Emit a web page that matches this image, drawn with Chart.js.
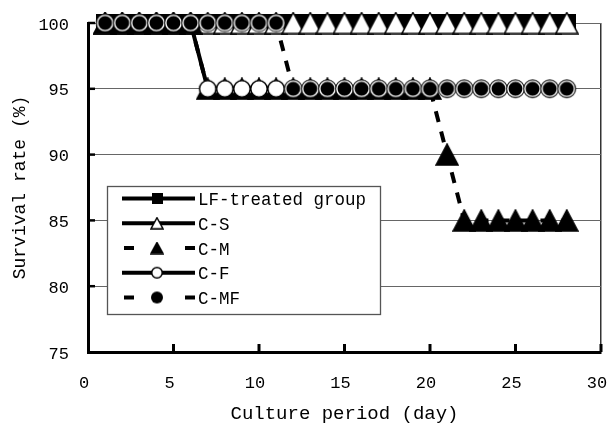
<!DOCTYPE html>
<html>
<head>
<meta charset="utf-8">
<script src="https://cdn.jsdelivr.net/npm/chart.js@4.4.1/dist/chart.umd.min.js"></script>
<style>
  html, body { margin: 0; padding: 0; background: #ffffff; }
  #wrap { width: 614px; height: 425px; }
</style>
</head>
<body>
<div id="wrap"><canvas id="c" width="614" height="425"></canvas></div>
<script>
// Culture day of each observation
const days = [1, 2, 3, 4, 5, 6, 7, 8, 9, 10, 11, 12, 13, 14, 15, 16, 17, 18, 19, 20, 21, 22, 23, 24, 25, 26, 27, 28];

// Survival rate (%) per group
const lfTreated = [100, 100, 100, 100, 100, 100, 100, 100, 100, 100, 100, 100, 100, 100, 100, 100, 100, 100, 100, 100, 100, 100, 100, 100, 100, 100, 100, 100];
const cS  = [100, 100, 100, 100, 100, 100, 100, 100, 100, 100, 100, 100, 100, 100, 100, 100, 100, 100, 100, 100, 100, 100, 100, 100, 100, 100, 100, 100];
const cM  = [100, 100, 100, 100, 100, 100, 95, 95, 95, 95, 95, 95, 95, 95, 95, 95, 95, 95, 95, 95, 90, 85, 85, 85, 85, 85, 85, 85];
const cF  = [100, 100, 100, 100, 100, 100, 95, 95, 95, 95, 95, 95, 95, 95, 95, 95, 95, 95, 95, 95, 95, 95, 95, 95, 95, 95, 95, 95];
const cMF = [100, 100, 100, 100, 100, 100, 100, 100, 100, 100, 100, 95, 95, 95, 95, 95, 95, 95, 95, 95, 95, 95, 95, 95, 95, 95, 95, 95];

const seriesNames = ['LF-treated group', 'C-S', 'C-M', 'C-F', 'C-MF'];
const xTicks = [0, 5, 10, 15, 20, 25, 30];
const yTicks = [75, 80, 85, 90, 95, 100];

const MONO = '"Liberation Mono", "DejaVu Sans Mono", monospace';

// ---- marker images -------------------------------------------------------
function makeCanvas(w, h, draw) {
  const cv = document.createElement('canvas');
  cv.width = w; cv.height = h;
  draw(cv.getContext('2d'), w, h);
  return cv;
}
function squareMarker(s) {
  return makeCanvas(s, s, (g) => { g.fillStyle = '#000'; g.fillRect(0, 0, s, s); });
}
function triangleMarker(w, h, fill) {
  const W = w + 2, H = h + 2;
  return makeCanvas(W, H, (g) => {
    g.beginPath();
    g.moveTo(W / 2, 1);
    g.lineTo(W - 1, H - 1);
    g.lineTo(1, H - 1);
    g.closePath();
    g.fillStyle = fill; g.fill();
    g.lineWidth = 1.5; g.strokeStyle = '#000'; g.lineJoin = 'miter'; g.stroke();
  });
}
function whiteCircleMarker(d) {
  const S = Math.ceil(d) + 2;
  return makeCanvas(S, S, (g) => {
    g.beginPath(); g.arc(S / 2, S / 2, d / 2 - 0.75, 0, Math.PI * 2);
    g.fillStyle = '#fff'; g.fill();
    g.lineWidth = 1.5; g.strokeStyle = '#000'; g.stroke();
  });
}
// black disc with a thin white ring just inside its edge
function ringCircleMarker(d) {
  const S = Math.ceil(d) + 2;
  return makeCanvas(S, S, (g) => {
    g.beginPath(); g.arc(S / 2, S / 2, d / 2, 0, Math.PI * 2);
    g.fillStyle = '#000'; g.fill();
    g.beginPath(); g.arc(S / 2, S / 2, d / 2 - 1.6, 0, Math.PI * 2);
    g.lineWidth = 1.4; g.strokeStyle = '#fff'; g.stroke();
  });
}
function blackCircleMarker(d) {
  const S = Math.ceil(d) + 2;
  return makeCanvas(S, S, (g) => {
    g.beginPath(); g.arc(S / 2, S / 2, d / 2, 0, Math.PI * 2);
    g.fillStyle = '#000'; g.fill();
  });
}

const plotMarkers = [
  squareMarker(18),
  triangleMarker(22, 21, '#fff'),
  triangleMarker(22, 21, '#000'),
  whiteCircleMarker(18),
  ringCircleMarker(18.5)
];
const legendMarkers = [
  squareMarker(11),
  triangleMarker(12, 11, '#fff'),
  triangleMarker(12, 11, '#000'),
  whiteCircleMarker(12),
  blackCircleMarker(12)
];
const dashed = [false, false, true, false, true];

const toPoints = (vals) => days.map((d, i) => ({ x: d, y: vals[i] }));
const seriesValues = [lfTreated, cS, cM, cF, cMF];

const datasets = seriesValues.map((vals, i) => ({
  label: seriesNames[i],
  data: toPoints(vals),
  borderColor: '#000',
  backgroundColor: '#000',
  borderWidth: 4,
  borderDash: dashed[i] ? [11, 10] : [],
  borderCapStyle: 'butt',
  tension: 0,
  pointStyle: plotMarkers[i],
  pointRadius: 9,
  clip: false,
  order: 5 - i
}));

// ---- inward tick marks on both axes --------------------------------------
const innerTicks = {
  id: 'innerTicks',
  beforeDatasetsDraw(chart) {
    const { ctx, scales: { x, y } } = chart;
    ctx.save();
    ctx.strokeStyle = '#000';
    ctx.lineWidth = 3;
    xTicks.forEach(v => {
      if (v === 0) return;
      const px = x.getPixelForValue(v);
      ctx.beginPath(); ctx.moveTo(px, y.bottom); ctx.lineTo(px, y.bottom - 8); ctx.stroke();
    });
    ctx.lineWidth = 2.5;
    yTicks.forEach(v => {
      if (v === 75) return;
      const py = y.getPixelForValue(v);
      ctx.beginPath(); ctx.moveTo(x.left, py); ctx.lineTo(x.left + 7, py); ctx.stroke();
    });
    ctx.restore();
  }
};

// ---- boxed legend with line samples --------------------------------------
const boxLegend = {
  id: 'boxLegend',
  afterDraw(chart) {
    const ctx = chart.ctx;
    const bx = 107, by = 186, bw = 273, bh = 128;
    ctx.save();
    ctx.fillStyle = '#fff';
    ctx.fillRect(bx, by, bw, bh);
    ctx.strokeStyle = '#555';
    ctx.lineWidth = 1.3;
    ctx.strokeRect(bx + 0.5, by + 0.5, bw, bh);
    const x0 = 122, x1 = 195, mx = 157;
    seriesNames.forEach((name, i) => {
      const yy = 198.5 + i * 24.75;
      ctx.strokeStyle = '#000';
      ctx.lineWidth = 4;
      ctx.lineCap = 'butt';
      ctx.beginPath();
      if (dashed[i]) {
        ctx.moveTo(x0 + 2, yy); ctx.lineTo(x0 + 12, yy);
        ctx.moveTo(x1 - 10, yy); ctx.lineTo(x1, yy);
      } else {
        ctx.moveTo(x0, yy); ctx.lineTo(x1, yy);
      }
      ctx.stroke();
      Chart.helpers.drawPoint(ctx, { pointStyle: legendMarkers[i], rotation: 0, borderWidth: 0 }, mx, yy);
      ctx.fillStyle = '#000';
      ctx.font = '17.5px ' + MONO;
      ctx.textAlign = 'left';
      ctx.textBaseline = 'middle';
      ctx.fillText(name, 198, yy + 2);
    });
    ctx.restore();
  }
};

new Chart(document.getElementById('c'), {
  type: 'line',
  data: { datasets },
  options: {
    responsive: false,
    animation: false,
    devicePixelRatio: 1,
    layout: { padding: { left: 0, right: 8, top: 23, bottom: 0 } },
    plugins: { legend: { display: false }, tooltip: { enabled: false } },
    scales: {
      x: {
        type: 'linear',
        min: 0, max: 30,
        afterBuildTicks: (s) => { s.ticks = xTicks.map(v => ({ value: v })); },
        afterFit: (s) => { s.height = 73; s.paddingLeft = 0; s.paddingRight = 0; },
        ticks: {
          color: '#000',
          font: { family: MONO, size: 17 },
          padding: 21,
          labelOffset: -4,
          maxRotation: 0,
          autoSkip: false
        },
        grid: {
          drawTicks: false,
          color: (c) => (c.tick && c.tick.value === 30 ? '#333' : 'rgba(0,0,0,0)'),
          lineWidth: 1.5
        },
        border: { color: '#000', width: 3 },
        title: {
          display: true,
          text: 'Culture period (day)',
          color: '#000',
          font: { family: MONO, size: 19 },
          padding: { top: 0, bottom: 0 }
        }
      },
      y: {
        type: 'linear',
        min: 75, max: 100,
        afterBuildTicks: (s) => { s.ticks = yTicks.map(v => ({ value: v })); },
        afterFit: (s) => { s.width = 88; s.paddingTop = 0; s.paddingBottom = 0; },
        ticks: {
          color: '#000',
          font: { family: MONO, size: 17 },
          padding: 19,
          labelOffset: 2
        },
        grid: {
          drawTicks: false,
          color: (c) => (c.tick && c.tick.value === 75 ? 'rgba(0,0,0,0)' : '#666'),
          lineWidth: 1
        },
        border: { color: '#000', width: 3 },
        title: {
          display: true,
          text: 'Survival rate (%)',
          color: '#000',
          font: { family: MONO, size: 18 },
          padding: { top: 9, bottom: 0 }
        }
      }
    }
  },
  plugins: [innerTicks, boxLegend]
});
</script>
</body>
</html>
